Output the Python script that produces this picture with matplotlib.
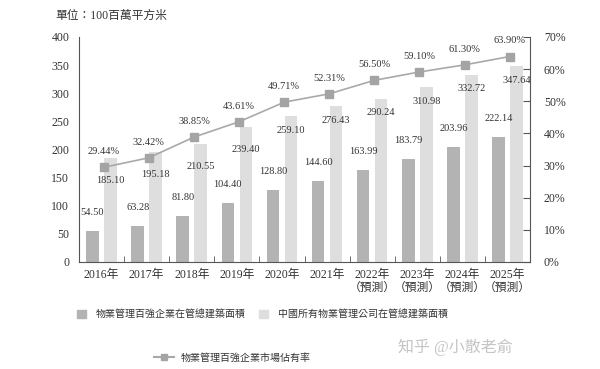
import numpy as np
import matplotlib
matplotlib.use('Agg')
import matplotlib.pyplot as plt
from matplotlib.lines import Line2D
from matplotlib.patches import Patch

plt.rcParams['font.family'] = ['Liberation Serif', 'Noto Sans CJK TC']

#Data
years = ['2016年', '2017年', '2018年', '2019年', '2020年', '2021年',
         '2022年\n（預測）', '2023年\n（預測）', '2024年\n（預測）', '2025年\n（預測）']
top100_area = [54.50, 63.28, 81.80, 104.40, 128.80, 144.60, 163.99, 183.79, 203.96, 222.14]
all_area = [185.10, 195.18, 210.55, 239.40, 259.10, 276.43, 290.24, 310.98, 332.72, 347.64]
share = [29.44, 32.42, 38.85, 43.61, 49.71, 52.31, 56.50, 59.10, 61.30, 63.90]

dark = '#b3b3b3'
light = '#dedede'
line_col = '#a9a9a9'
txt = '#333333'
axis_col = '#555555'

fig = plt.figure(figsize=(6, 3.69), dpi=100)
ax = fig.add_axes([0.1317, 0.29, 0.7516, 0.61])
ax2 = ax.twinx()

x = np.arange(len(years))
w = 0.28
ax.bar(x - 0.2, top100_area, w, color=dark, zorder=2)
ax.bar(x + 0.2, all_area, w, color=light, zorder=2)

#labels of the bars (the first ones sit lower, under the line)
for i in range(len(x)):
    ax.annotate('%.2f' % top100_area[i], (x[i] - 0.2, top100_area[i]), xytext=(0, 10),
                textcoords='offset points', ha='center', va='bottom', fontsize=7.5, color=txt)
    off = -13 if i < 4 else -7
    ax.annotate('%.2f' % all_area[i], (x[i] + 0.2, all_area[i]), xytext=(0, off),
                textcoords='offset points', ha='center', va='top', fontsize=7.5, color=txt)

ax2.plot(x + 0.05, share, color=line_col, linewidth=1.2, marker='s', markersize=6,
         markerfacecolor='#a4a4a4', markeredgecolor='#a4a4a4', zorder=3)
for i in range(len(x)):
    ax2.annotate('%.2f%%' % share[i], (x[i] + 0.05, share[i]), xytext=(0, 8),
                 textcoords='offset points', ha='center', va='bottom', fontsize=7.5, color=txt)

ax.set_xlim(-0.5, len(years) - 0.5)
ax.set_ylim(0, 400)
ax2.set_ylim(0, 70)
ax.set_yticks(np.arange(0, 401, 50))
ax2.set_yticks(np.arange(0, 71, 10))
ax2.set_yticklabels(['%d%%' % v for v in range(0, 71, 10)])

ax.set_xticks(x)
ax.set_xticklabels(years, fontsize=8.5, color=txt, linespacing=1.1)
ax.set_xticks(np.arange(0.5, len(years) - 1, 1), minor=True)
ax.tick_params(axis='x', which='major', length=0, pad=5)
ax.tick_params(axis='x', which='minor', direction='in', length=4, color=axis_col)
ax.tick_params(axis='y', length=0, pad=7, labelsize=8.5, labelcolor=txt)
ax2.tick_params(axis='y', direction='in', length=5, color=axis_col, pad=10,
                labelsize=8.5, labelcolor=txt)

for a in (ax, ax2):
    a.spines['top'].set_visible(False)
ax2.spines['left'].set_visible(False)
ax2.spines['bottom'].set_visible(False)
ax.spines['right'].set_visible(False)
for s in ('left', 'bottom'):
    ax.spines[s].set_color(axis_col)
ax2.spines['right'].set_color(axis_col)

fig.text(0.092, 0.957, '單位：100百萬平方米', fontsize=8.5, color=txt, va='center')

#legends
h1 = [Patch(color=dark, label='物業管理百強企業在管總建築面積'),
      Patch(color=light, label='中國所有物業管理公司在管總建築面積')]
fig.legend(handles=h1, loc='center', bbox_to_anchor=(0.437, 0.148), ncol=2, frameon=False,
           fontsize=7.2, handlelength=0.9, handleheight=0.9, handletextpad=1.0,
           columnspacing=1.3, labelcolor=txt)
h2 = [Line2D([0], [0], color=line_col, marker='s', markersize=5,
             markerfacecolor='#a4a4a4', markeredgecolor='#a4a4a4',
             label='物業管理百強企業市場佔有率')]
fig.legend(handles=h2, loc='center', bbox_to_anchor=(0.387, 0.03), frameon=False,
           fontsize=7.2, handlelength=2.0, handletextpad=0.6, labelcolor=txt)

fig.text(0.663, 0.06, '知乎 @小散老俞', fontsize=11.5, color='#c4c4c4', va='center')

fig.savefig('out.png', dpi=100)
